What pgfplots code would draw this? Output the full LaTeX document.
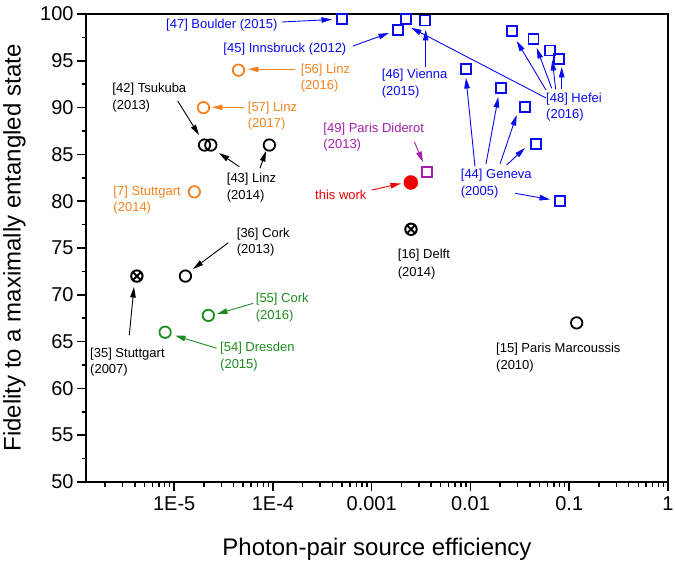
\documentclass[border=0pt]{standalone}
\usepackage{pgfplots}
\pgfplotsset{compat=1.18}
\usepackage{fontspec}
\setmainfont{Liberation Sans}
\usetikzlibrary{arrows.meta}
\definecolor{oblue}{RGB}{10,10,240}
\definecolor{oorange}{RGB}{245,130,32}
\definecolor{ogreen}{RGB}{30,140,30}
\definecolor{opurple}{RGB}{165,30,175}
\definecolor{ored}{RGB}{240,0,0}
\newcommand{\annfont}{\fontsize{13bp}{16bp}\selectfont}
\newcommand{\lab}[4]{\node[anchor=base west, inner sep=0pt, text=#1, font=\annfont] at (#2,#3+4.7) {#4};}
\newcommand{\arr}[5]{\draw[#1, line width=0.9bp, -{Triangle[length=10.5bp,width=5.5bp]}] (#2,#3) -- (#4,#5);}
\begin{document}
\begin{tikzpicture}
\useasboundingbox (-86bp,-82bp) rectangle (589bp,482bp);
\begin{axis}[
  at={(0bp,0bp)}, anchor=south west,
  scale only axis, width=582bp, height=468bp,
  xmode=log, log basis x=10,
  xmin=1.28e-6, xmax=1, ymin=50, ymax=100,
  xtick={1e-5,1e-4,1e-3,1e-2,1e-1,1},
  xticklabels={1E-5,1E-4,0.001,0.01,0.1,1},
  minor xtick={2e-6,3e-6,4e-6,5e-6,6e-6,7e-6,8e-6,9e-6,
    2e-5,3e-5,4e-5,5e-5,6e-5,7e-5,8e-5,9e-5,
    2e-4,3e-4,4e-4,5e-4,6e-4,7e-4,8e-4,9e-4,
    2e-3,3e-3,4e-3,5e-3,6e-3,7e-3,8e-3,9e-3,
    2e-2,3e-2,4e-2,5e-2,6e-2,7e-2,8e-2,9e-2,
    0.2,0.3,0.4,0.5,0.6,0.7,0.8,0.9},
  ytick={50,55,...,100},
  minor ytick={52.5,57.5,...,97.5},
  tick align=outside, xtick pos=bottom, ytick pos=left,
  major tick length=9bp, minor tick length=4.5bp,
  every tick/.style={black, line width=1.5bp},
  axis line style={line width=2bp},
  tick label style={font=\fontsize{20bp}{24bp}\selectfont},
  xticklabel style={yshift=-2.5bp},
  /pgf/number format/assume math mode=true,
  every axis x label/.style={at={(axis description cs:0.5,-0.156)}, anchor=base, inner sep=0pt, font=\fontsize{24bp}{28bp}\selectfont},
  every axis y label/.style={at={(axis description cs:-0.1426,0.5)}, rotate=90, anchor=north, inner sep=0pt, font=\fontsize{24bp}{28bp}\selectfont},
  xlabel={Photon-pair source efficiency},
  ylabel={Fidelity to a maximally entangled state},
  clip=false,
]
% black open circles
\addplot[only marks, mark=o, mark size=5.7bp, line width=1.8bp, black] coordinates {
 (2.03e-5,86) (2.35e-5,86) (9.2e-5,86) (1.3e-5,72) (0.119,67)};
% crossed circles
\addplot[only marks, mark=otimes, mark size=5.7bp, line width=2bp, black] coordinates {
 (4.19e-6,72) (2.5e-3,77)};
% orange circles
\addplot[only marks, mark=o, mark size=5.7bp, line width=1.8bp, oorange] coordinates {
 (4.48e-5,94) (1.98e-5,90) (1.6e-5,81)};
% green circles
\addplot[only marks, mark=o, mark size=5.7bp, line width=1.8bp, ogreen] coordinates {
 (2.22e-5,67.8) (8.1e-6,66)};
% blue squares
\addplot[only marks, mark=square, mark size=5bp, line width=1.8bp, oblue] coordinates {
 (5e-4,99.5) (1.84e-3,98.3) (2.21e-3,99.5) (3.47e-3,99.3)
 (0.0262,98.2) (0.0434,97.3) (0.0644,96.1) (0.0794,95.2)
 (0.00895,94.1) (0.0204,92.06) (0.0357,90.1) (0.0461,86.1) (0.0807,80.0)};
% purple square
\addplot[only marks, mark=square, mark size=5bp, line width=1.8bp, opurple] coordinates {
 (3.66e-3,83.1)};
% this work
\addplot[only marks, mark=*, mark size=7bp, ored, fill=ored] coordinates {
 (2.49e-3,82)};
\end{axis}
\begin{scope}[x=1bp,y=-1bp,shift={(-86bp,482bp)}]
% labels
\lab{oblue}{166}{24}{[47] Boulder (2015)}
\lab{oblue}{223.3}{47.7}{[45] Innsbruck (2012)}
\lab{oorange}{300.7}{69.3}{[56] Linz}
\lab{oorange}{300.7}{85}{(2016)}
\lab{oorange}{247.7}{107.3}{[57] Linz}
\lab{oorange}{247.7}{123.3}{(2017)}
\lab{black}{112.3}{88.3}{[42] Tsukuba}
\lab{black}{112.3}{105}{(2013)}
\lab{black}{226.7}{178.3}{[43] Linz}
\lab{black}{226.7}{195}{(2014)}
\lab{oorange}{113.3}{190.7}{[7] Stuttgart}
\lab{oorange}{113.3}{207.3}{(2014)}
\lab{opurple}{323.3}{127.7}{[49] Paris Diderot}
\lab{opurple}{323.3}{144.3}{(2013)}
\lab{ored}{315}{195}{this work}
\lab{oblue}{381.7}{74}{[46] Vienna}
\lab{oblue}{381.7}{90.7}{(2015)}
\lab{oblue}{546}{97.7}{[48] Hefei}
\lab{oblue}{546}{114.3}{(2016)}
\lab{oblue}{460.7}{174.3}{[44] Geneva}
\lab{oblue}{460.7}{191}{(2005)}
\lab{black}{236.7}{232.7}{[36] Cork}
\lab{black}{236.7}{249.3}{(2013)}
\lab{black}{90}{352.7}{[35] Stuttgart}
\lab{black}{90}{369.3}{(2007)}
\lab{ogreen}{255.7}{298.3}{[55] Cork}
\lab{ogreen}{255.7}{315}{(2016)}
\lab{ogreen}{220}{347.3}{[54] Dresden}
\lab{ogreen}{220}{364}{(2015)}
\lab{black}{397.7}{254.3}{[16] Delft}
\lab{black}{397.7}{271.7}{(2014)}
\lab{black}{496}{347.7}{[15] Paris Marcoussis}
\lab{black}{496}{365}{(2010)}
% arrows
\arr{oblue}{282}{22}{332}{19.5}
\arr{oblue}{353}{46}{389}{33}
\arr{oblue}{425.7}{66.7}{425.7}{30}
\arr{oblue}{546}{98}{411}{27.7}
\arr{oblue}{546}{90}{516.7}{41}
\arr{oblue}{551.7}{88.3}{536.7}{48}
\arr{oblue}{555.7}{89.3}{552.3}{60}
\arr{oblue}{561.7}{89.3}{561.7}{67}
\arr{oblue}{475}{166.7}{466}{78}
\arr{oblue}{486}{164}{498.3}{97}
\arr{oblue}{500}{164}{516.7}{115}
\arr{oblue}{506.7}{165}{525}{148}
\arr{oblue}{515}{193.3}{550}{199.5}
\arr{opurple}{414.3}{141.7}{423}{162}
\arr{ored}{371.7}{190}{401}{183.5}
\arr{black}{177.7}{101}{199}{135}
\arr{black}{239.3}{166.7}{219}{153}
\arr{black}{260}{168.3}{266}{151}
\arr{oorange}{295}{69.3}{248}{69.3}
\arr{oorange}{244.3}{107.3}{212}{107.3}
\arr{black}{228.3}{242.7}{193}{269}
\arr{black}{129.3}{335}{134}{287}
\arr{ogreen}{253.3}{303.3}{217}{314}
\arr{ogreen}{216.7}{348.3}{175}{335.5}
\end{scope}
\end{tikzpicture}
\end{document}
